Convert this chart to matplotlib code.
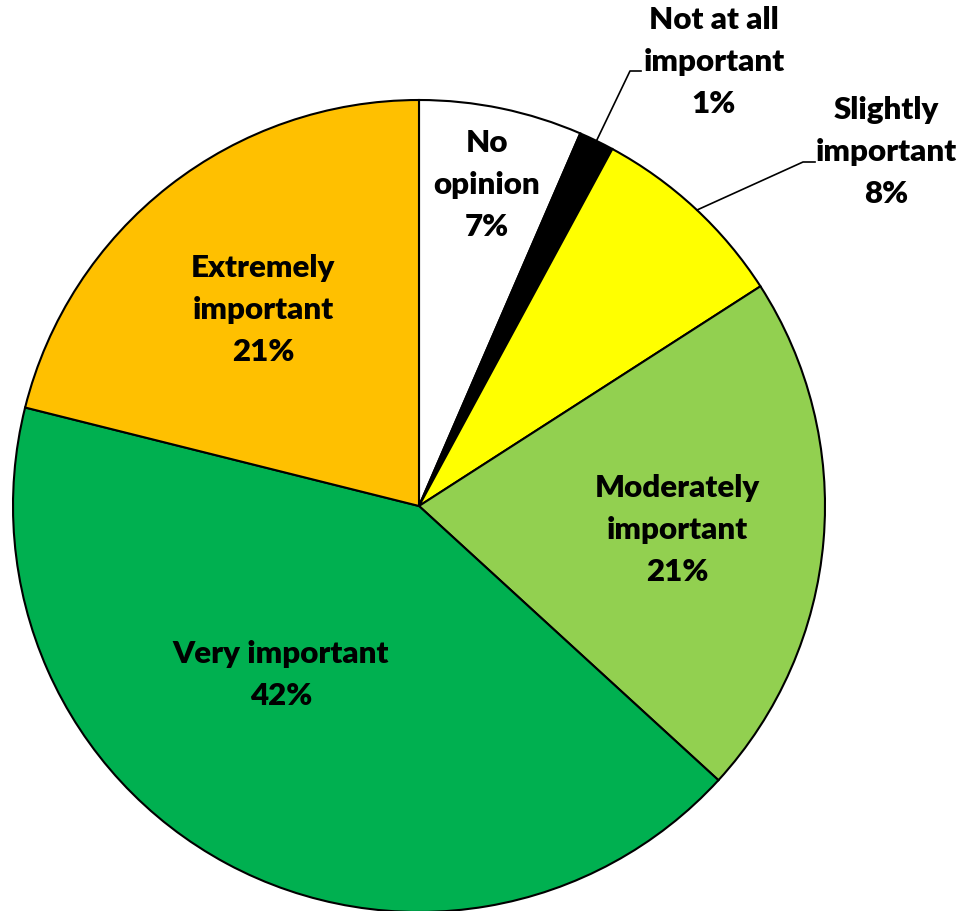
import matplotlib
matplotlib.use("Agg")
import matplotlib.pyplot as plt
import numpy as np

categories = ["No\nopinion", "Not at all\nimportant", "Slightly\nimportant",
              "Moderately\nimportant", "Very important", "Extremely\nimportant"]
values = [6.5, 1.4, 8.0, 20.9, 42.1, 21.1]
pct_labels = ["7%", "1%", "8%", "21%", "42%", "21%"]
colors = ["#FFFFFF", "#000000", "#FFFF00", "#92D050", "#00B050", "#FFC000"]

# label positions in pixel space (x, y from top)
label_pos = [(487, 185), (714, 62), (886, 152), (677, 530), (281, 675), (263, 310)]

W, H = 964, 912
fig = plt.figure(figsize=(W / 100, H / 100), dpi=100)
ax = fig.add_axes([0, 0, 1, 1])

cx, cy, R = 419, H - 507, 406
wedges, _ = ax.pie(values, colors=colors, startangle=90, counterclock=False,
                   center=(cx, cy), radius=R, frame=True,
                   wedgeprops=dict(edgecolor="black", linewidth=1.5))
ax.set_xlim(0, W)
ax.set_ylim(0, H)
ax.set_aspect("equal")
ax.axis("off")

font = dict(family=["Lato", "DejaVu Sans"], fontweight="heavy", fontsize=22.5,
            ha="center", va="center", linespacing=1.6)
for cat, p, (x, y) in zip(categories, pct_labels, label_pos):
    ax.text(x, H - y, f"{cat}\n{p}", **font)

# leader lines for small slices
def edge_point(w):
    th = np.deg2rad((w.theta1 + w.theta2) / 2)
    return cx + R * np.cos(th), cy + R * np.sin(th)

ex, ey = edge_point(wedges[1])
ax.plot([ex, 630, 641], [ey, H - 72, H - 72], color="black", lw=1.2)
th = np.deg2rad(90 - 0.12 * 360)
ax.plot([cx + R * np.cos(th), 803, 815], [cy + R * np.sin(th), H - 163, H - 163],
        color="black", lw=1.2)

fig.savefig("out.png", dpi=100)
